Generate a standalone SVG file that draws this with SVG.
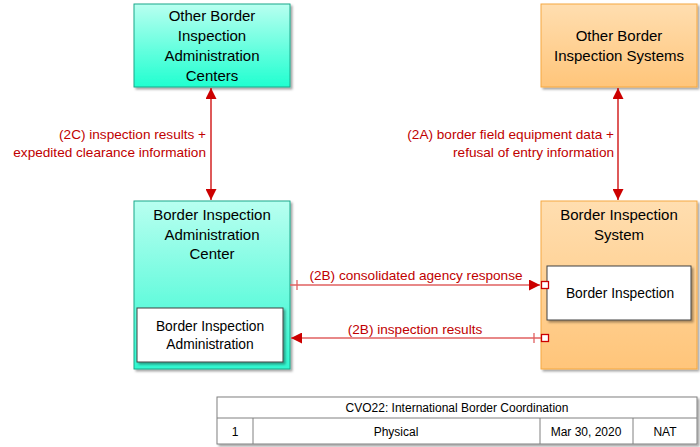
<svg xmlns="http://www.w3.org/2000/svg" width="700" height="447" viewBox="0 0 700 447">
<defs>
<linearGradient id="teal" x1="0" y1="0" x2="0" y2="1">
<stop offset="0" stop-color="#b8fff0"/>
<stop offset="1" stop-color="#20ffd0"/>
</linearGradient>
<linearGradient id="teal2" x1="0" y1="0" x2="0" y2="1">
<stop offset="0" stop-color="#b8fff0"/>
<stop offset="1" stop-color="#30f8d0"/>
</linearGradient>
<linearGradient id="orange" x1="0" y1="0" x2="0" y2="1">
<stop offset="0" stop-color="#ffdeb0"/>
<stop offset="1" stop-color="#ffc57a"/>
</linearGradient>
<marker id="ah" viewBox="0 0 10 10" refX="10" refY="5" markerWidth="11" markerHeight="11" markerUnits="userSpaceOnUse" orient="auto-start-reverse">
<path d="M0,0 L10,5 L0,10 z" fill="#cc0000"/>
</marker>
<filter id="sh" x="-10%" y="-10%" width="130%" height="130%">
<feDropShadow dx="2" dy="2" stdDeviation="1" flood-color="#000" flood-opacity="0.35"/>
</filter>
</defs>
<style>
.t{font-family:"Liberation Sans",Arial,sans-serif;font-size:15px;fill:#000;text-anchor:middle}
.s{font-family:"Liberation Sans",Arial,sans-serif;font-size:13.8px;fill:#000;text-anchor:middle}
.l{font-family:"Liberation Sans",Arial,sans-serif;font-size:13.6px;fill:#c00000}
.tb{font-family:"Liberation Sans",Arial,sans-serif;font-size:12px;fill:#000;text-anchor:middle}
.tealbox{stroke:#1aa88a;stroke-width:1}
.orbox{stroke:#f5a840;stroke-width:1}
.inner{fill:#fff;stroke:#404040;stroke-width:1}
.c{stroke:#cc0000;stroke-width:1.3;fill:none}
.ch{stroke:#e06060;stroke-width:1.3;fill:none}
.port{fill:#fff;stroke:#cc0000;stroke-width:1.3}
</style>
<g id="other-biac">
<rect x="134" y="4" width="156" height="83" fill="url(#teal)" class="tealbox" filter="url(#sh)"/>
<text class="t" x="212" y="21">Other Border</text>
<text class="t" x="212" y="41">Inspection</text>
<text class="t" x="212" y="61">Administration</text>
<text class="t" x="212" y="81">Centers</text>
</g>
<g id="other-bis">
<rect x="541" y="4" width="156" height="83" fill="url(#orange)" class="orbox" filter="url(#sh)"/>
<text class="t" x="619" y="41">Other Border</text>
<text class="t" x="619" y="61">Inspection Systems</text>
</g>
<g id="biac">
<rect x="134" y="201" width="156" height="168" fill="url(#teal2)" class="tealbox" filter="url(#sh)"/>
<text class="t" x="212" y="220">Border Inspection</text>
<text class="t" x="212" y="240">Administration</text>
<text class="t" x="212" y="259">Center</text>
<rect x="137" y="308" width="146" height="54" class="inner" filter="url(#sh)"/>
<text class="s" x="210" y="331">Border Inspection</text>
<text class="s" x="210" y="349">Administration</text>
</g>
<g id="bis">
<rect x="541" y="201" width="156" height="168" fill="url(#orange)" class="orbox" filter="url(#sh)"/>
<text class="t" x="619" y="220">Border Inspection</text>
<text class="t" x="619" y="240">System</text>
<rect x="547" y="266" width="144" height="54" class="inner" filter="url(#sh)"/>
<text class="s" x="620" y="298">Border Inspection</text>
</g>
<g id="connectors">
<line class="c" x1="211" y1="88" x2="211" y2="200" marker-start="url(#ah)" marker-end="url(#ah)"/>
<text class="l" x="206" y="139" text-anchor="end">(2C) inspection results +</text>
<text class="l" x="206" y="157" text-anchor="end">expedited clearance information</text>
<line class="c" x1="618" y1="88" x2="618" y2="200" marker-start="url(#ah)" marker-end="url(#ah)"/>
<text class="l" x="614" y="139" text-anchor="end">(2A) border field equipment data +</text>
<text class="l" x="614" y="157" text-anchor="end">refusal of entry information</text>
<line class="ch" x1="290" y1="285" x2="540" y2="285" marker-end="url(#ah)"/>
<line class="ch" x1="297" y1="280" x2="297" y2="290"/>
<rect class="port" x="541.5" y="281.5" width="7" height="7"/>
<text class="l" x="416" y="280" text-anchor="middle">(2B) consolidated agency response</text>
<line class="ch" x1="291" y1="338" x2="541" y2="338" marker-start="url(#ah)"/>
<line class="ch" x1="534" y1="333" x2="534" y2="343"/>
<rect class="port" x="541.5" y="334.5" width="7" height="7"/>
<text class="l" x="415" y="334" text-anchor="middle">(2B) inspection results</text>
</g>
<g id="title-block">
<rect x="217" y="397" width="480" height="47" fill="#fff" stroke="#808080" filter="url(#sh)"/>
<line x1="217" y1="418" x2="697" y2="418" stroke="#808080"/>
<line x1="253" y1="418" x2="253" y2="444" stroke="#808080"/>
<line x1="540" y1="418" x2="540" y2="444" stroke="#808080"/>
<line x1="633" y1="418" x2="633" y2="444" stroke="#808080"/>
<text class="tb" x="457" y="412">CVO22: International Border Coordination</text>
<text class="tb" x="235" y="436">1</text>
<text class="tb" x="396" y="436">Physical</text>
<text class="tb" x="586" y="436">Mar 30, 2020</text>
<text class="tb" x="665" y="436">NAT</text>
</g>
</svg>
